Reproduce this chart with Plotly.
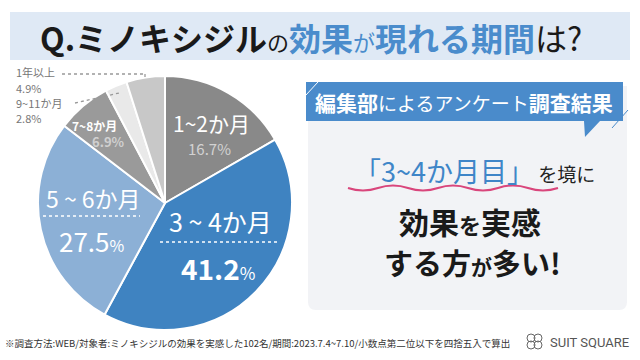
import plotly.graph_objects as go

# ---- data ----
periods = ["1~2か月", "3~4か月", "5~6か月", "7~8か月", "9~11か月", "1年以上"]
shares = [16.7, 41.2, 27.5, 6.9, 2.8, 4.9]
slice_colors = ["#898989", "#3f83c1", "#8cb0d6", "#9a9a9a", "#e9e9e9", "#c8c8c8"]

title_parts = ["Q.ミノキシジル", "の", "効果", "が", "現れる期間", "は?"]
header_text = "編集部によるアンケート調査結果"
footnote = "※調査方法:WEB/対象者:ミノキシジルの効果を実感した102名/期間:2023.7.4~7.10/小数点第二位以下を四捨五入で算出"
brand = "SUIT SQUARE"

W, H = 640, 360
FONT = "Noto Sans CJK JP"


def px(x):
    return x / W


def py(y):
    return 1 - y / H


def path(pts, close=True):
    s = ""
    for cmd, coords in pts:
        if cmd == "Q":
            s += f"Q {px(coords[0]):.5f},{py(coords[1]):.5f} {px(coords[2]):.5f},{py(coords[3]):.5f} "
        else:
            for j in range(0, len(coords), 2):
                s += f"{cmd if j == 0 or cmd != 'M' else 'L'} {px(coords[j]):.5f},{py(coords[j+1]):.5f} "
    if close:
        s += "Z"
    return s.strip()


fig = go.Figure()
fig.add_trace(go.Pie(
    values=shares, labels=periods, sort=False, direction="clockwise", rotation=0,
    marker=dict(colors=slice_colors, line=dict(color="white", width=2)),
    textinfo="none", hoverinfo="skip", showlegend=False,
    domain=dict(x=[px(38), px(292)], y=[py(330), py(76)]),
))

shapes = []
annotations = []

# title banner
shapes.append(dict(type="rect", xref="paper", yref="paper", x0=px(10), x1=px(630), y0=py(60), y1=py(12),
                   fillcolor="#dfe9f5", line=dict(width=0), layer="below"))
blue = "#4a8ccc"
title_html = (f"<b>{title_parts[0]}</b><span style='font-size:22px'>{title_parts[1]}</span>"
              f"<span style='color:{blue}'><b>{title_parts[2]}</b></span>"
              f"<span style='color:{blue};font-size:22px'>{title_parts[3]}</span>"
              f"<span style='color:{blue}'><b>{title_parts[4]}</b></span>"
              f"<span>{title_parts[5]}</span>")
annotations.append(dict(xref="paper", yref="paper", x=px(311), y=py(37), text=title_html, showarrow=False,
                        xanchor="center", yanchor="middle", font=dict(family=FONT, size=32, color="#1a1a1a")))

# card
shapes.append(dict(type="path", xref="paper", yref="paper",
                   path=path([("M", [316, 86]), ("L", [627, 86]), ("L", [627, 302]),
                              ("Q", [627, 310, 619, 310]), ("L", [316, 310]),
                              ("Q", [308, 310, 308, 302]), ("L", [308, 94]),
                              ("Q", [308, 86, 316, 86])]),
                   fillcolor="#f2f3f6", line=dict(width=0), layer="below"))
# header bar with speech tail
hdr = [("M", [306, 82])]
for pt in [(623, 82), (623, 121), (600, 121), (585, 137), (584, 121), (306, 121)]:
    hdr.append(("L", list(pt)))
shapes.append(dict(type="path", xref="paper", yref="paper", path=path(hdr),
                   fillcolor="#4a8bcb", line=dict(width=0)))
shapes.append(dict(type="line", xref="paper", yref="paper", x0=px(306), y0=py(95), x1=px(318), y1=py(82),
                   line=dict(color="white", width=1)))
shapes.append(dict(type="line", xref="paper", yref="paper", x0=px(612), y0=py(128), x1=px(628), y1=py(110),
                   line=dict(color="#4a8bcb", width=1)))
annotations.append(dict(xref="paper", yref="paper", x=px(464), y=py(102),
                        text="<b>編集部</b><span style='font-size:19px'>によるアンケート</span><b>調査結果</b>",
                        showarrow=False, xanchor="center", yanchor="middle",
                        font=dict(family=FONT, size=21, color="white")))
annotations.append(dict(xref="paper", yref="paper", x=px(474), y=py(170),
                        text=f"<span style='color:#3f86c8;font-size:27px'>「3~4か月目」</span> を境に",
                        showarrow=False, xanchor="center", yanchor="middle",
                        font=dict(family=FONT, size=19, color="#222")))
# wavy underline
wave = [("M", [348, 188])]
x = 348
up = True
while x < 530:
    wave.append(("Q", [x + 15, 188 + (5 if up else -5), x + 30, 188]))
    x += 30
    up = not up
shapes.append(dict(type="path", xref="paper", yref="paper", path=path(wave, close=False),
                   line=dict(color="#d9467c", width=2)))
annotations.append(dict(xref="paper", yref="paper", x=px(470), y=py(221),
                        text="<b>効果</b><span style='font-size:22px'><b>を</b></span><b>実感</b>",
                        showarrow=False, xanchor="center", yanchor="middle",
                        font=dict(family=FONT, size=30, color="#1a1a1a")))
annotations.append(dict(xref="paper", yref="paper", x=px(472), y=py(262),
                        text="<b>する方</b><span style='font-size:21px'><b>が</b></span><b>多い!</b>",
                        showarrow=False, xanchor="center", yanchor="middle",
                        font=dict(family=FONT, size=29, color="#1a1a1a")))

# pie labels
def lab(x, y, text, size, color="white", anchor="center", family=FONT):
    annotations.append(dict(xref="paper", yref="paper", x=px(x), y=py(y), text=text, showarrow=False,
                            xanchor=anchor, yanchor="middle", font=dict(family=family, size=size, color=color)))


def dotted(x0, y0, x1, y1, color="white", width=1.6):
    shapes.append(dict(type="line", xref="paper", yref="paper", x0=px(x0), y0=py(y0), x1=px(x1), y1=py(y1),
                       line=dict(color=color, width=width, dash="dot")))


lab(211, 123, periods[0], 21)
lab(209, 148, f"{shares[0]}%", 15, "#d2d2d2")
lab(220, 221, periods[1].replace("~", " ~ "), 25)
dotted(160, 242, 277, 242)
lab(218, 268, f"<b>{shares[1]}</b><span style='font-size:17px'>%</span>", 28)
lab(93, 198, periods[2].replace("~", " ~ "), 23)
dotted(43, 216, 140, 216)
lab(92, 240, f"{shares[2]}<span style='font-size:16px'>%</span>", 26)
lab(94, 125, f"<b>{periods[3]}</b>", 12)
lab(108, 142, f"<b>{shares[3]}%</b>", 13, "#d0d0d0")
lab(14, 72, periods[5], 11, "#777", "left")
lab(14, 88, f"{shares[5]}%", 11, "#777", "left")
lab(14, 103, periods[4], 11, "#777", "left")
lab(14, 118, f"{shares[4]}%", 11, "#777", "left")
dotted(62, 74, 145, 74, "#999", 1.3)
dotted(145, 74, 145, 80, "#999", 1.3)
dotted(75, 103, 119, 93, "#999", 1.3)

# footer
lab(3, 343, footnote, 9.5, "#333", "left")
lab(548, 342, brand, 13, "#555", "left", "Roboto")
for cx, cy in [(531, 338), (538, 338), (531, 345), (538, 345)]:
    shapes.append(dict(type="circle", xref="paper", yref="paper", x0=px(cx - 4), x1=px(cx + 4),
                       y0=py(cy + 4), y1=py(cy - 4), line=dict(color="#666", width=1)))

fig.update_layout(width=W, height=H, margin=dict(l=0, r=0, t=0, b=0),
                  paper_bgcolor="white", plot_bgcolor="white",
                  shapes=shapes, annotations=annotations, showlegend=False)
fig.write_html("out.html", config={"displayModeBar": False},
               post_script="document.body.style.margin='0';")
